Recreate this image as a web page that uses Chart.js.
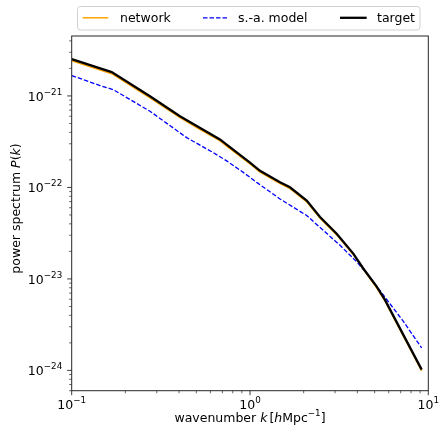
<!DOCTYPE html>
<html>
<head>
<meta charset="utf-8">
<script src="https://cdn.jsdelivr.net/npm/chart.js@4.4.0/dist/chart.umd.min.js"></script>
<style>
  html, body { margin: 0; padding: 0; background: #fff; }
  #wrap { width: 440px; height: 434px; }
</style>
</head>
<body>
<div id="wrap"><canvas id="spectrumChart" width="440" height="434"></canvas></div>
<script>
// wavenumber bins [h/Mpc] and spectra
const kTarget = [0.1, 0.1676, 0.2748, 0.4048, 0.5026, 0.6786, 0.7552, 1.0, 1.138, 1.473, 1.676, 2.080, 2.470, 3.063, 3.796, 4.319, 5.135, 5.716, 7.21, 9.18];
const pTarget = [2.52e-21, 1.82e-21, 9.90e-22, 6.00e-22, 4.68e-22, 3.35e-22, 2.84e-22, 1.87e-22, 1.52e-22, 1.136e-22, 1.003e-22, 7.17e-23, 4.74e-23, 3.12e-23, 1.89e-23, 1.30e-23, 8.23e-24, 5.89e-24, 2.49e-24, 1.02e-24];
const pNetwork = [2.42e-21, 1.75e-21, 9.50e-22, 5.78e-22, 4.52e-22, 3.23e-22, 2.74e-22, 1.81e-22, 1.47e-22, 1.10e-22, 9.70e-23, 6.95e-23, 4.60e-23, 3.03e-23, 1.84e-23, 1.27e-23, 8.00e-24, 5.72e-24, 2.42e-24, 0.99e-24];

const kModel = [0.1, 0.1441, 0.1712, 0.2748, 0.4416, 0.6225, 0.7402, 0.9171, 1.090, 1.473, 2.080, 2.578, 3.198, 3.967, 4.608, 5.593, 7.25, 9.18];
const pModel = [1.67e-21, 1.30e-21, 1.17e-21, 6.80e-22, 3.50e-22, 2.40e-22, 1.95e-22, 1.46e-22, 1.136e-22, 7.48e-23, 4.93e-23, 3.39e-23, 2.33e-23, 1.54e-23, 1.10e-23, 6.67e-24, 3.43e-24, 1.76e-24];

const xTicks = [0.1, 1, 10];
const xTickExp = ['−1', '0', '1'];
const yTicks = [1e-21, 1e-22, 1e-23, 1e-24];
const yTickExp = ['−21', '−22', '−23', '−24'];
const legendLabels = ['network', 's.-a. model', 'target'];

const FONT = '"DejaVu Sans", sans-serif';
const SIZE = 12.5;
const SUP = SIZE * 0.7;

function toPoints(xs, ys) {
    return xs.map((x, i) => ({ x: x, y: ys[i] }));
}

// draw a run of text pieces: {t, it (italic), sup (superscript), gap}
function runWidth(ctx, parts) {
    let w = 0;
    parts.forEach(p => {
        ctx.font = (p.it ? 'italic ' : '') + (p.sup ? SUP : SIZE) + 'px ' + FONT;
        w += ctx.measureText(p.t).width + (p.gap || 0);
    });
    return w;
}

function drawRun(ctx, parts, x, y, align) {
    const w = runWidth(ctx, parts);
    let cx = x;
    if (align === 'center') cx = x - w / 2;
    if (align === 'right') cx = x - w;
    ctx.textAlign = 'left';
    ctx.textBaseline = 'alphabetic';
    ctx.fillStyle = '#000';
    parts.forEach(p => {
        ctx.font = (p.it ? 'italic ' : '') + (p.sup ? SUP : SIZE) + 'px ' + FONT;
        ctx.fillText(p.t, cx, p.sup ? y - 5.8 : y);
        cx += ctx.measureText(p.t).width + (p.gap || 0);
    });
}

function minorValues(min, max) {
    const out = [];
    for (let e = Math.floor(Math.log10(min)); e <= Math.ceil(Math.log10(max)); e++) {
        for (let m = 2; m <= 9; m++) {
            const v = m * Math.pow(10, e);
            if (v >= min && v <= max) out.push(v);
        }
    }
    return out;
}

const axesPlugin = {
    id: 'axesPlugin',
    afterDraw(chart) {
        const ctx = chart.ctx;
        const area = chart.chartArea;
        const xs = chart.scales.x;
        const ys = chart.scales.y;
        ctx.save();

        // frame
        ctx.strokeStyle = '#262626';
        ctx.lineWidth = 1;
        ctx.strokeRect(area.left, area.top, area.right - area.left, area.bottom - area.top);

        // ticks
        ctx.lineWidth = 0.9;
        ctx.beginPath();
        xTicks.forEach(v => {
            const px = xs.getPixelForValue(v);
            ctx.moveTo(px, area.bottom);
            ctx.lineTo(px, area.bottom + 4.5);
        });
        yTicks.forEach(v => {
            const py = ys.getPixelForValue(v);
            ctx.moveTo(area.left, py);
            ctx.lineTo(area.left - 4.5, py);
        });
        ctx.stroke();
        ctx.lineWidth = 0.7;
        ctx.beginPath();
        minorValues(xs.min, xs.max).forEach(v => {
            const px = xs.getPixelForValue(v);
            ctx.moveTo(px, area.bottom);
            ctx.lineTo(px, area.bottom + 2.6);
        });
        minorValues(ys.min, ys.max).forEach(v => {
            const py = ys.getPixelForValue(v);
            ctx.moveTo(area.left, py);
            ctx.lineTo(area.left - 2.6, py);
        });
        ctx.stroke();

        // tick labels
        xTicks.forEach((v, i) => {
            drawRun(ctx, [{ t: '10' }, { t: xTickExp[i], sup: true }], xs.getPixelForValue(v), area.bottom + 18.5, 'center');
        });
        yTicks.forEach((v, i) => {
            drawRun(ctx, [{ t: '10' }, { t: yTickExp[i], sup: true }], area.left - 9.5, ys.getPixelForValue(v) + 4.7, 'right');
        });

        // axis titles
        drawRun(ctx, [
            { t: 'wavenumber ' }, { t: 'k', it: true, gap: 2 }, { t: '[' },
            { t: 'h', it: true }, { t: 'Mpc' }, { t: '−1', sup: true }, { t: ']' }
        ], (area.left + area.right) / 2, 422, 'center');

        ctx.save();
        ctx.translate(19.5, 208.5);
        ctx.rotate(-Math.PI / 2);
        drawRun(ctx, [
            { t: 'power spectrum ' }, { t: 'P', it: true }, { t: '(' }, { t: 'k', it: true }, { t: ')' }
        ], 0, 0, 'center');
        ctx.restore();

        // legend
        const lx = 77.5, ly = 6.5, lw = 342.5, lh = 23.5;
        ctx.fillStyle = 'rgba(255,255,255,0.8)';
        ctx.strokeStyle = '#d0d0d0';
        ctx.lineWidth = 1;
        ctx.beginPath();
        ctx.roundRect(lx, ly, lw, lh, 3);
        ctx.fill();
        ctx.stroke();

        const items = [
            { x0: 82.7, x1: 108.3, tx: 120, ds: chart.data.datasets[2] },
            { x0: 203, x1: 228.3, tx: 238, ds: chart.data.datasets[1] },
            { x0: 340, x1: 366.7, tx: 377, ds: chart.data.datasets[0] }
        ];
        items.forEach((it, i) => {
            ctx.strokeStyle = it.ds.borderColor;
            ctx.lineWidth = it.ds.borderWidth;
            ctx.setLineDash(it.ds.borderDash || []);
            ctx.beginPath();
            ctx.moveTo(it.x0, 17.8);
            ctx.lineTo(it.x1, 17.8);
            ctx.stroke();
            ctx.setLineDash([]);
            drawRun(ctx, [{ t: legendLabels[i] }], it.tx, 22, 'left');
        });

        ctx.restore();
    }
};

const ctx = document.getElementById('spectrumChart').getContext('2d');
const chart = new Chart(ctx, {
    type: 'line',
    data: {
        datasets: [{
            label: legendLabels[2],
            data: toPoints(kTarget, pTarget),
            borderColor: '#000000',
            borderWidth: 2.3
        }, {
            label: legendLabels[1],
            data: toPoints(kModel, pModel),
            borderColor: '#0000ff',
            borderWidth: 1.3,
            borderDash: [4.5, 2]
        }, {
            label: legendLabels[0],
            data: toPoints(kTarget, pNetwork),
            borderColor: '#ffa500',
            borderWidth: 1.5
        }]
    },
    options: {
        responsive: false,
        animation: false,
        devicePixelRatio: 1,
        layout: { padding: { left: 71.7, right: 11.7, top: 36, bottom: 43.3 } },
        elements: {
            point: { radius: 0 },
            line: { tension: 0, fill: false }
        },
        plugins: {
            legend: { display: false },
            tooltip: { enabled: false }
        },
        scales: {
            x: { type: 'logarithmic', min: 0.1, max: 10, display: false },
            y: { type: 'logarithmic', min: 6.38e-25, max: 4.52e-21, display: false }
        }
    },
    plugins: [axesPlugin]
});
</script>
</body>
</html>
